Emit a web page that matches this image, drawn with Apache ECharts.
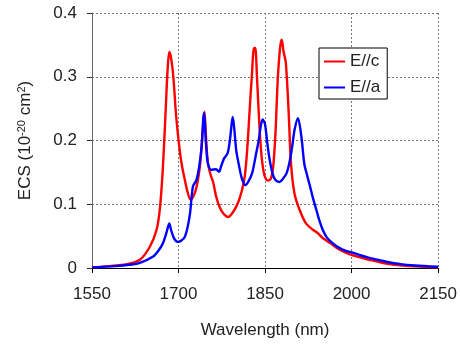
<!DOCTYPE html>
<html>
<head>
<meta charset="utf-8">
<script src="https://cdn.jsdelivr.net/npm/echarts@6/dist/echarts.min.js"></script>
<style>
  html, body { margin: 0; padding: 0; background: #fff; }
  #chart { width: 460px; height: 346px; }
</style>
</head>
<body>
<div id="chart"></div>
<script>
// E//c (red)
const wlC = [1550, 1580, 1610, 1633, 1650, 1662, 1668, 1673, 1678, 1681, 1684, 1687, 1691, 1696, 1702, 1706, 1711, 1716,
  1721, 1728, 1733, 1737, 1740, 1743, 1745, 1748, 1751, 1756, 1760, 1765, 1771, 1778, 1786, 1794, 1803, 1810,
  1815, 1819, 1823, 1827, 1831, 1833, 1836, 1840, 1844, 1849, 1855, 1860, 1864, 1868, 1872, 1876, 1879, 1882, 1886,
  1891, 1895, 1901, 1910, 1921, 1933, 1941, 1950, 1963, 1975, 1990, 2005, 2030, 2065, 2100, 2150];
const ecsC = [0.001, 0.003, 0.006, 0.013, 0.033, 0.06, 0.096, 0.159, 0.253, 0.31, 0.339, 0.33, 0.3, 0.237, 0.185, 0.16, 0.138, 0.118,
  0.107, 0.117, 0.135, 0.159, 0.19, 0.227, 0.245, 0.2, 0.164, 0.145, 0.135, 0.113, 0.096, 0.085, 0.08, 0.087, 0.102, 0.122,
  0.145, 0.185, 0.243, 0.3, 0.345, 0.345, 0.3, 0.227, 0.175, 0.145, 0.137, 0.14, 0.158, 0.21, 0.295, 0.345, 0.358, 0.34, 0.322,
  0.243, 0.164, 0.117, 0.091, 0.07, 0.06, 0.055, 0.047, 0.039, 0.031, 0.024, 0.019, 0.013, 0.006, 0.003, 0.001];

// E//a (blue)
const wlA = [1550, 1590, 1615, 1633, 1656, 1665, 1673, 1679, 1684, 1687, 1691, 1695, 1699, 1705, 1711, 1716, 1720,
  1725, 1731, 1736, 1740, 1744, 1748, 1751, 1757, 1765, 1770, 1774, 1779, 1785, 1789, 1792, 1794, 1797,
  1800, 1805, 1810, 1816, 1822, 1828, 1834, 1839, 1843, 1846, 1850, 1854, 1858, 1863, 1868, 1875, 1881, 1887, 1892,
  1897, 1901, 1907, 1913, 1918, 1923, 1928, 1933, 1939, 1944, 1950, 1957, 1967, 1978, 1990, 2002, 2015, 2031, 2050,
  2065, 2085, 2110, 2150];
const ecsA = [0.001, 0.003, 0.005, 0.008, 0.018, 0.027, 0.039, 0.055, 0.07, 0.06, 0.049, 0.043, 0.041, 0.043, 0.049, 0.065, 0.086,
  0.128, 0.138, 0.16, 0.19, 0.243, 0.19, 0.164, 0.154, 0.155, 0.151, 0.16, 0.172, 0.18, 0.2, 0.225, 0.237, 0.215,
  0.185, 0.16, 0.14, 0.13, 0.137, 0.15, 0.177, 0.2, 0.225, 0.233, 0.225, 0.195, 0.17, 0.148, 0.138, 0.135, 0.14, 0.148, 0.164,
  0.19, 0.216, 0.235, 0.206, 0.164, 0.145, 0.128, 0.11, 0.091, 0.075, 0.06, 0.048, 0.039, 0.032, 0.027, 0.024, 0.02, 0.016, 0.012,
  0.009, 0.006, 0.004, 0.002];

const seriesNames = ["E//c", "E//a"];
const FONT = "Liberation Sans, Arial, sans-serif";
const ink = "#222";

const chart = echarts.init(document.getElementById("chart"), null, { renderer: "canvas" });

const gridLine = { show: true, lineStyle: { color: "#777", type: [2, 2], width: 1 } };

chart.setOption({
  animation: false,
  backgroundColor: "#fff",
  grid: { left: 92, right: 21, top: 13, bottom: 78 },
  legend: {
    orient: "vertical",
    left: 319,
    top: 48,
    data: seriesNames,
    icon: "rect",
    itemWidth: 21,
    itemHeight: 2,
    itemGap: 9,
    padding: [5, 7, 3, 5],
    backgroundColor: "#fff",
    borderColor: "#000",
    borderWidth: 1,
    textStyle: { fontFamily: FONT, fontSize: 17, color: ink }
  },
  xAxis: {
    type: "value",
    min: 1550,
    max: 2150,
    interval: 150,
    name: "Wavelength (nm)",
    nameLocation: "middle",
    nameGap: 54,
    nameTextStyle: { fontFamily: FONT, fontSize: 17, color: ink },
    axisLine: { show: true, onZero: false, lineStyle: { color: "#000", width: 1 } },
    axisTick: { show: true, inside: false, length: 5, lineStyle: { color: "#000" } },
    axisLabel: { fontFamily: FONT, fontSize: 17, color: ink, margin: 18, formatter: (v) => String(v) },
    splitLine: gridLine
  },
  yAxis: {
    type: "value",
    min: 0,
    max: 0.4,
    interval: 0.1,
    name: "ECS (10{sup|-20} cm{sup|2})",
    nameLocation: "middle",
    nameGap: 57,
    nameTextStyle: {
      fontFamily: FONT, fontSize: 17, color: ink,
      rich: { sup: { fontFamily: FONT, fontSize: 11, color: ink, verticalAlign: "top", padding: [0, 0, 8, 0] } }
    },
    axisLine: { show: true, lineStyle: { color: "#666", width: 1 } },
    axisTick: { show: true, inside: false, length: 5, lineStyle: { color: "#333" } },
    axisLabel: { fontFamily: FONT, fontSize: 17, color: ink, margin: 15 },
    splitLine: gridLine
  },
  series: [
    {
      name: seriesNames[0],
      type: "line",
      data: wlC.map((w, i) => [w, ecsC[i]]),
      symbol: "none",
      smooth: 0.3,
      lineStyle: { color: "#ff0000", width: 2.4 },
      itemStyle: { color: "#ff0000" },
      z: 3
    },
    {
      name: seriesNames[1],
      type: "line",
      data: wlA.map((w, i) => [w, ecsA[i]]),
      symbol: "none",
      smooth: 0.3,
      lineStyle: { color: "#0000ff", width: 2.4 },
      itemStyle: { color: "#0000ff" },
      z: 4
    }
  ]
});
</script>
</body>
</html>
